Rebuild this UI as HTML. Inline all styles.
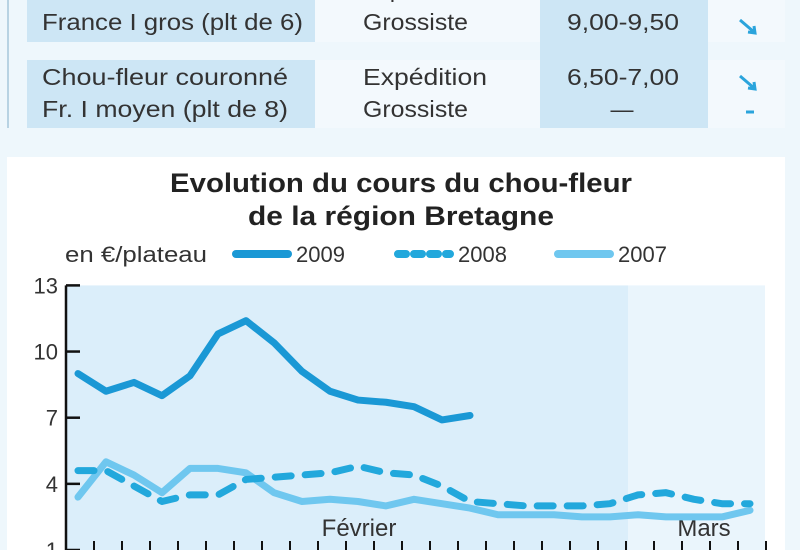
<!DOCTYPE html>
<html><head><meta charset="utf-8"><style>
body{margin:0;background:#eef7fc;}
svg{display:block;font-family:"Liberation Sans",sans-serif;}
</style></head><body>
<svg width="800" height="550" viewBox="0 0 800 550">
<rect width="800" height="550" fill="#eef7fc"/>
<g fill="#333" font-size="23">
<line x1="8" y1="0" x2="8" y2="128" stroke="#b8d3e3" stroke-width="2"/>
<rect x="27" y="0" width="288" height="42" fill="#cde6f5"/>
<rect x="315" y="0" width="225" height="42" fill="#f3f9fd"/>
<rect x="27" y="60" width="288" height="68" fill="#cde6f5"/>
<rect x="315" y="60" width="225" height="68" fill="#f3f9fd"/>
<rect x="540" y="0" width="168" height="128" fill="#cde6f5"/>
<rect x="708" y="0" width="77" height="42" fill="#f3f9fd"/>
<rect x="708" y="60" width="77" height="68" fill="#f3f9fd"/>
<text x="42" y="30" textLength="261" lengthAdjust="spacingAndGlyphs">France I gros (plt de 6)</text>
<text x="363" y="-3">Expédition</text>
<text x="363" y="30" textLength="105" lengthAdjust="spacingAndGlyphs">Grossiste</text>
<text x="622" y="-3" text-anchor="middle">9,50-10,00</text>
<text x="567" y="30" textLength="112" lengthAdjust="spacingAndGlyphs">9,00-9,50</text>
<text x="42" y="85" textLength="246" lengthAdjust="spacingAndGlyphs">Chou-fleur couronné</text>
<text x="42" y="117" textLength="246" lengthAdjust="spacingAndGlyphs">Fr. I moyen (plt de 8)</text>
<text x="363" y="85" textLength="124" lengthAdjust="spacingAndGlyphs">Expédition</text>
<text x="363" y="117" textLength="105" lengthAdjust="spacingAndGlyphs">Grossiste</text>
<text x="567" y="85" textLength="112" lengthAdjust="spacingAndGlyphs">6,50-7,00</text>
<text x="622" y="117" text-anchor="middle">—</text>
<g fill="none" stroke="#2aa4dc" stroke-width="3">
<path d="M740 20 L754 32 M748 32 L755 33 L754 26"/>
<path d="M740 76 L754 88 M748 88 L755 89 L754 82"/>
<path d="M746 112 L754 112"/>
</g>
</g>
<rect x="7" y="157" width="778" height="393" fill="#ffffff"/>
<g font-weight="bold" fill="#222" font-size="27">
<text x="170" y="192" textLength="462" lengthAdjust="spacingAndGlyphs">Evolution du cours du chou-fleur</text>
<text x="248" y="225" textLength="306" lengthAdjust="spacingAndGlyphs">de la région Bretagne</text>
</g>
<g id="chart"></g>
</svg>
<script>
const xTickCount = 26;
const yTicks = [1,4,7,10,13];
const legendLabels = ['2009','2008','2007'];
const s2009 = [9.0,8.2,8.6,8.0,8.9,10.8,11.4,10.4,9.1,8.2,7.8,7.7,7.5,6.9,7.1];
const s2008 = [4.6,4.6,3.9,3.2,3.5,3.5,4.2,4.3,4.4,4.5,4.8,4.5,4.4,3.9,3.2,3.1,3.0,3.0,3.0,3.1,3.5,3.6,3.3,3.1,3.1];
const s2007 = [3.4,5.0,4.4,3.6,4.7,4.7,4.5,3.6,3.2,3.3,3.2,3.0,3.3,3.1,2.9,2.6,2.6,2.6,2.5,2.5,2.6,2.5,2.5,2.5,2.8];
const monthLabels = ['Février','Mars'];
const monthIdx = [10,22.5];

const NS='http://www.w3.org/2000/svg';
const g=document.getElementById('chart');
const X0=66, DX=28, Y1=550, PU=22.05;
const xs=i=>X0+12+i*DX;
const ys=v=>Y1-(v-1)*PU;
function mk(t,a,p){const e=document.createElementNS(NS,t);for(const k in a)e.setAttribute(k,a[k]);(p||g).appendChild(e);return e;}
const bg1=mk('rect',{x:X0,y:ys(13),width:628-X0,height:Y1-ys(13),fill:'#dbeefa'});


const bg2=mk('rect',{x:628,y:ys(13),width:765-628,height:Y1-ys(13),fill:'#eaf5fc'});


const ax=mk('line',{x1:X0,y1:ys(13),x2:X0,y2:550,stroke:'#111','stroke-width':2.5});


yTicks.forEach(v=>{
  const t=mk('line',{x1:X0,y1:ys(v),x2:X0+14,y2:ys(v),stroke:'#111','stroke-width':2.5});
  
  
  const l=mk('text',{x:X0-8,y:ys(v)+8,'text-anchor':'end','font-size':22,fill:'#333'});
  l.textContent=v;
  
  
});
for(let i=0;i<xTickCount;i++){
  const t=mk('line',{x1:X0+i*DX,y1:550,x2:X0+i*DX,y2:541,stroke:'#111','stroke-width':2});
  
  
}
monthLabels.forEach((m,k)=>{
  const l=mk('text',{x:xs(monthIdx[k])-(k?4:-1),y:536,'text-anchor':'middle','font-size':24,fill:'#333'});
  l.textContent=m;
  
  
});
function line(data,col,dash,name){
  const d=data.map((v,i)=>(i?'L':'M')+xs(i)+' '+ys(v)).join(' ');
  const p=mk('path',{d:d,fill:'none',stroke:col,'stroke-width':7,'stroke-linejoin':'round','stroke-linecap':'round'});
  if(dash)p.setAttribute('stroke-dasharray',dash);
  
  
}
line(s2007,'#6fc7ef',null,'series-2007');
line(s2008,'#22a8dc','16 14','series-2008');
line(s2009,'#1a98d5',null,'series-2009');
const unit=mk('text',{x:65,y:262,'font-size':22,fill:'#333',textLength:142,lengthAdjust:'spacingAndGlyphs'});
unit.textContent='en €/plateau';


const lg=[[236,'#1a98d5',null],[398,'#22a8dc','8 8'],[558,'#6fc7ef',null]];
legendLabels.forEach((lab,k)=>{
  const [x,c,d]=lg[k];
  const l=mk('line',{x1:x,y1:254,x2:x+52,y2:254,stroke:c,'stroke-width':8,'stroke-linecap':'round'});
  if(d)l.setAttribute('stroke-dasharray',d);
  
  
  const t=mk('text',{x:x+60,y:262,'font-size':22,fill:'#333'});
  t.textContent=lab;
  
  
});
</script>
</body></html>
